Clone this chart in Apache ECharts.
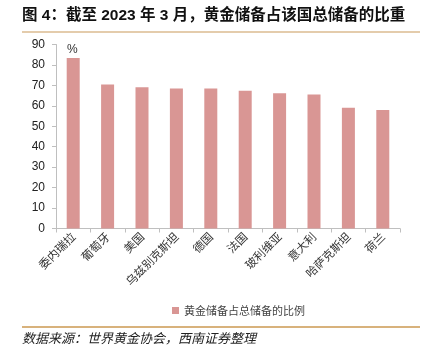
<!DOCTYPE html>
<html><head><meta charset="utf-8">
<script src="https://cdn.jsdelivr.net/npm/echarts@6/dist/echarts.min.js"></script>
<style>html,body{margin:0;padding:0;background:#fff}#c{width:424px;height:358px}</style>
</head><body><div id="c"></div>
<script>
const titleText = '图 4：截至 2023 年 3 月，黄金储备占该国总储备的比重';
const sourceText = '数据来源：世界黄金协会，西南证券整理';
const seriesName = '黄金储备占总储备的比例';
const categories = ['委内瑞拉','葡萄牙','美国','乌兹别克斯坦','德国','法国','玻利维亚','意大利','哈萨克斯坦','荷兰'];
const values = [83.4, 70.4, 69.1, 68.5, 68.5, 67.4, 66.1, 65.6, 59.1, 58.0];
const yTicks = {min: 0, max: 90, interval: 10};
const unitLabel = '%';

const chart = echarts.init(document.getElementById('c'));
chart.setOption({
  animation: false,
  textStyle: {fontFamily: 'Liberation Sans, Noto Sans CJK SC, sans-serif'},
  grid: {left: 56, right: 24, top: 44.5, bottom: 129.5, containLabel: false},
  graphic: [
    {type: 'text', left: 22, top: 8, style: {text: titleText, font: 'bold 15.5px "Liberation Sans", "Noto Sans CJK SC"', fill: '#111'}},
    {type: 'line', shape: {x1: 22, y1: 32, x2: 420, y2: 32}, style: {stroke: '#c99a5a', lineWidth: 1.2}},
    {type: 'text', left: 67, top: 44, style: {text: unitLabel, font: '12px "Liberation Sans"', fill: '#333'}},
    {type: 'line', shape: {x1: 22, y1: 327, x2: 420, y2: 327}, style: {stroke: '#d8b27c', lineWidth: 2}},
    {type: 'text', left: 22, top: 332, style: {text: sourceText, font: 'italic 13px "Noto Sans CJK SC"', fill: '#222'}}
  ],
  legend: {
    data: [seriesName], top: 300, left: 167, itemWidth: 7, itemHeight: 7, itemGap: 5,
    icon: 'rect', textStyle: {fontSize: 11, color: '#444', fontFamily: 'Noto Sans CJK SC'}
  },
  xAxis: {
    type: 'category', data: categories,
    axisLine: {lineStyle: {color: '#bfbfbf', width: 1}},
    axisTick: {show: true, length: 4, lineStyle: {color: '#bfbfbf'}},
    axisLabel: {rotate: 45, fontSize: 11.5, color: '#333', margin: 6, interval: 0, fontFamily: 'Noto Sans CJK SC'}
  },
  yAxis: {
    type: 'value', min: yTicks.min, max: yTicks.max, interval: yTicks.interval,
    splitLine: {show: false},
    axisLine: {show: true, lineStyle: {color: '#bfbfbf', width: 1}},
    axisTick: {show: true, length: 4, lineStyle: {color: '#bfbfbf'}},
    axisLabel: {fontSize: 12, color: '#222', margin: 11, fontFamily: 'Liberation Sans'}
  },
  series: [{
    name: seriesName, type: 'bar', data: values, barWidth: 13,
    itemStyle: {color: '#d99694'}
  }]
});
</script></body></html>
